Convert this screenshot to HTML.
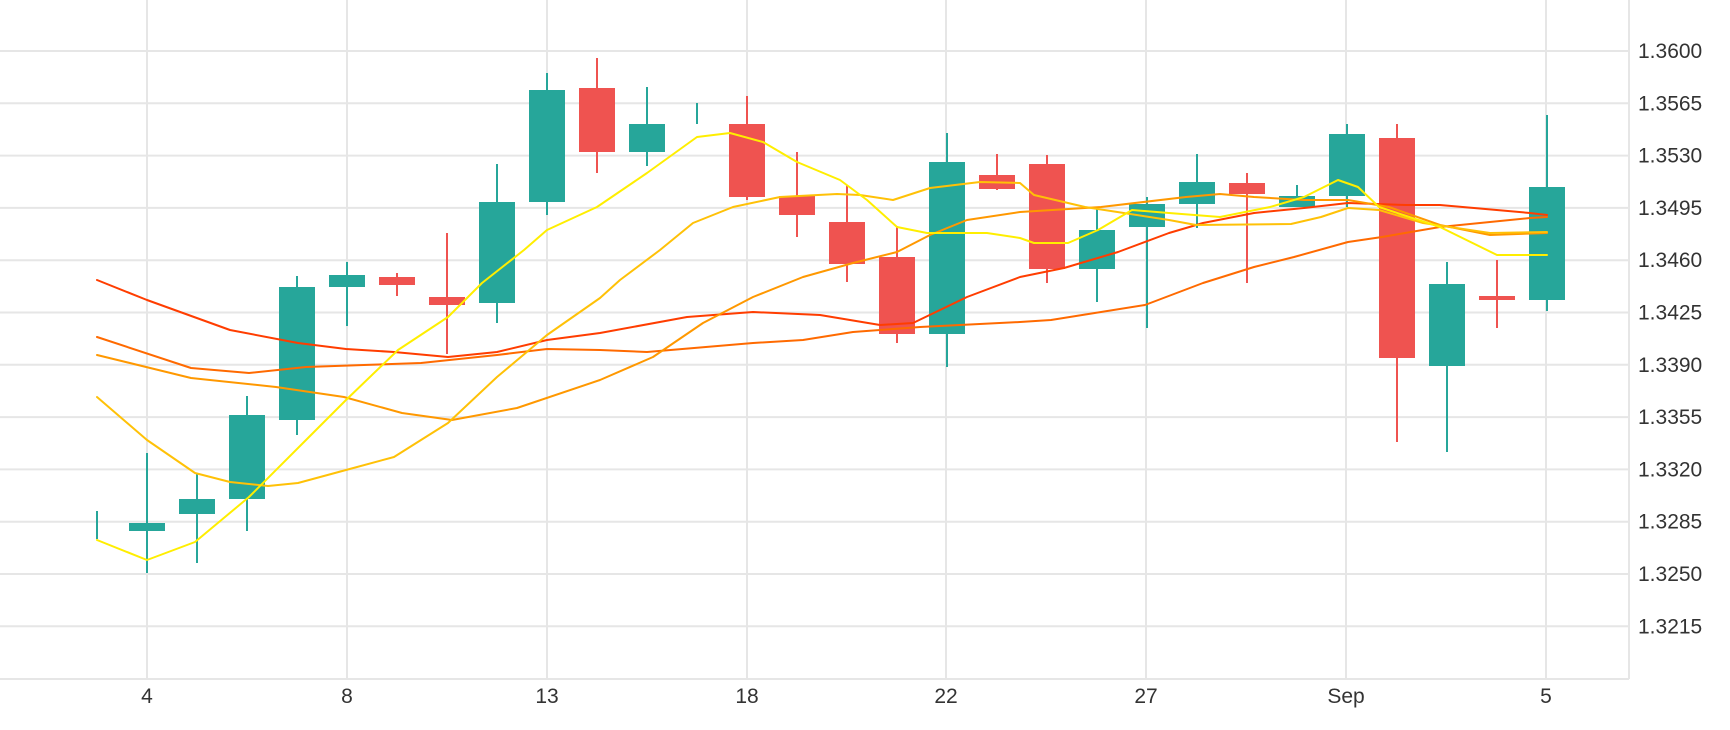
<!DOCTYPE html>
<html><head><meta charset="utf-8"><style>
html,body{margin:0;padding:0;background:#fff;}
svg{display:block;}
text{font-family:"Liberation Sans",sans-serif;fill:#333;}
</style></head><body>
<svg width="1730" height="730" viewBox="0 0 1730 730" xmlns="http://www.w3.org/2000/svg">
<g stroke="#e6e6e6" stroke-width="2" fill="none">
<line x1="0" y1="51" x2="1629" y2="51"/>
<line x1="0" y1="103.3" x2="1629" y2="103.3"/>
<line x1="0" y1="155.6" x2="1629" y2="155.6"/>
<line x1="0" y1="207.9" x2="1629" y2="207.9"/>
<line x1="0" y1="260.2" x2="1629" y2="260.2"/>
<line x1="0" y1="312.5" x2="1629" y2="312.5"/>
<line x1="0" y1="364.8" x2="1629" y2="364.8"/>
<line x1="0" y1="417.1" x2="1629" y2="417.1"/>
<line x1="0" y1="469.4" x2="1629" y2="469.4"/>
<line x1="0" y1="521.7" x2="1629" y2="521.7"/>
<line x1="0" y1="574" x2="1629" y2="574"/>
<line x1="0" y1="626.3" x2="1629" y2="626.3"/>
<line x1="0" y1="679" x2="1629" y2="679"/>
<line x1="1629" y1="0" x2="1629" y2="679"/>
<line x1="147" y1="0" x2="147" y2="679"/>
<line x1="347" y1="0" x2="347" y2="679"/>
<line x1="547" y1="0" x2="547" y2="679"/>
<line x1="747" y1="0" x2="747" y2="679"/>
<line x1="946" y1="0" x2="946" y2="679"/>
<line x1="1146" y1="0" x2="1146" y2="679"/>
<line x1="1346" y1="0" x2="1346" y2="679"/>
<line x1="1546" y1="0" x2="1546" y2="679"/>
</g>
<g font-size="21">
<text x="1638" y="58">1.3600</text>
<text x="1638" y="110.3">1.3565</text>
<text x="1638" y="162.6">1.3530</text>
<text x="1638" y="214.9">1.3495</text>
<text x="1638" y="267.2">1.3460</text>
<text x="1638" y="319.5">1.3425</text>
<text x="1638" y="371.8">1.3390</text>
<text x="1638" y="424.1">1.3355</text>
<text x="1638" y="476.4">1.3320</text>
<text x="1638" y="528.7">1.3285</text>
<text x="1638" y="581">1.3250</text>
<text x="1638" y="633.3">1.3215</text>
</g>
<g font-size="21" text-anchor="middle">
<text x="147" y="703">4</text>
<text x="347" y="703">8</text>
<text x="547" y="703">13</text>
<text x="747" y="703">18</text>
<text x="946" y="703">22</text>
<text x="1146" y="703">27</text>
<text x="1346" y="703">Sep</text>
<text x="1546" y="703">5</text>
</g>
<g stroke-width="2">
<g stroke="#26a69a" fill="#26a69a">
<line x1="97" y1="511" x2="97" y2="539"/>
<line x1="147" y1="453" x2="147" y2="573"/><rect x="129" y="523" width="36" height="8" stroke="none"/>
<line x1="197" y1="473" x2="197" y2="563"/><rect x="179" y="499" width="36" height="15" stroke="none"/>
<line x1="247" y1="396" x2="247" y2="531"/><rect x="229" y="415" width="36" height="84" stroke="none"/>
<line x1="297" y1="276" x2="297" y2="435"/><rect x="279" y="287" width="36" height="133" stroke="none"/>
<line x1="347" y1="262" x2="347" y2="326"/><rect x="329" y="275" width="36" height="12" stroke="none"/>
<line x1="497" y1="164" x2="497" y2="323"/><rect x="479" y="202" width="36" height="101" stroke="none"/>
<line x1="547" y1="73" x2="547" y2="215"/><rect x="529" y="90" width="36" height="112" stroke="none"/>
<line x1="647" y1="87" x2="647" y2="166"/><rect x="629" y="124" width="36" height="28" stroke="none"/>
<line x1="697" y1="103" x2="697" y2="124"/>
<line x1="947" y1="133" x2="947" y2="367"/><rect x="929" y="162" width="36" height="172" stroke="none"/>
<line x1="1097" y1="209" x2="1097" y2="302"/><rect x="1079" y="230" width="36" height="39" stroke="none"/>
<line x1="1147" y1="197" x2="1147" y2="328"/><rect x="1129" y="204" width="36" height="23" stroke="none"/>
<line x1="1197" y1="154" x2="1197" y2="228"/><rect x="1179" y="182" width="36" height="22" stroke="none"/>
<line x1="1297" y1="185" x2="1297" y2="207"/><rect x="1279" y="196" width="36" height="11" stroke="none"/>
<line x1="1347" y1="124" x2="1347" y2="207"/><rect x="1329" y="134" width="36" height="62" stroke="none"/>
<line x1="1447" y1="262" x2="1447" y2="452"/><rect x="1429" y="284" width="36" height="82" stroke="none"/>
<line x1="1547" y1="115" x2="1547" y2="311"/><rect x="1529" y="187" width="36" height="113" stroke="none"/>
</g>
<g stroke="#ef5350" fill="#ef5350">
<line x1="397" y1="273" x2="397" y2="296"/><rect x="379" y="277" width="36" height="8" stroke="none"/>
<line x1="447" y1="233" x2="447" y2="354"/><rect x="429" y="297" width="36" height="8" stroke="none"/>
<line x1="597" y1="58" x2="597" y2="173"/><rect x="579" y="88" width="36" height="64" stroke="none"/>
<line x1="747" y1="96" x2="747" y2="200"/><rect x="729" y="124" width="36" height="73" stroke="none"/>
<line x1="797" y1="152" x2="797" y2="237"/><rect x="779" y="196" width="36" height="19" stroke="none"/>
<line x1="847" y1="185" x2="847" y2="282"/><rect x="829" y="222" width="36" height="42" stroke="none"/>
<line x1="897" y1="226" x2="897" y2="343"/><rect x="879" y="257" width="36" height="77" stroke="none"/>
<line x1="997" y1="154" x2="997" y2="190"/><rect x="979" y="175" width="36" height="14" stroke="none"/>
<line x1="1047" y1="155" x2="1047" y2="283"/><rect x="1029" y="164" width="36" height="105" stroke="none"/>
<line x1="1247" y1="173" x2="1247" y2="283"/><rect x="1229" y="183" width="36" height="11" stroke="none"/>
<line x1="1397" y1="124" x2="1397" y2="442"/><rect x="1379" y="138" width="36" height="220" stroke="none"/>
<line x1="1497" y1="260" x2="1497" y2="328"/><rect x="1479" y="296" width="36" height="4" stroke="none"/>
</g>
</g>
<g id="ma" fill="none" stroke-width="2" stroke-linejoin="round" stroke-linecap="round">
<polyline stroke="#ff3d00" points="97,280 147,300 230,330 298,343 346,349 394,352 448,357 497,352 547,340 600,333 687,317 753,312 820,315 880,325 913,323 967,297 1020,277 1064,268 1118,252 1169,233 1203,223 1254,213 1304,208 1348,203 1406,205 1440,205 1530,213 1547,215"/>
<polyline stroke="#ff6a00" points="97,337 191,368 249,373 306,367 421,363 497,355 547,349 600,350 647,352 753,343 803,340 853,332 920,327 1020,322 1051,320 1145,305 1203,283 1254,267 1294,257 1348,242 1382,237 1440,227 1530,218 1547,217"/>
<polyline stroke="#ff9800" points="97,355 191,378 276,387 344,397 402,413 452,420 517,408 600,380 653,357 703,323 753,297 803,277 853,263 897,252 930,235 967,220 1020,212 1101,207 1186,197 1220,194 1254,197 1304,200 1348,200 1389,207 1440,225 1490,235 1547,233"/>
<polyline stroke="#ffc107" points="97,397 147,440 195,473 230,482 268,486 298,483 346,470 394,457 448,423 497,377 547,335 600,298 620,280 660,250 693,223 733,207 780,197 837,194 860,195 893,200 930,188 980,182 1020,183 1034,195 1085,207 1169,220 1196,225 1291,224 1321,217 1348,208 1379,210 1423,223 1490,233 1547,232"/>
<polyline stroke="#ffee00" points="97,540 147,560 195,542 249,497 306,440 346,400 398,350 448,317 482,283 524,250 547,230 597,207 647,173 697,137 730,133 763,142 797,162 840,180 867,200 897,227 927,233 987,233 1020,238 1034,243 1068,243 1098,230 1132,210 1169,213 1220,217 1270,207 1304,197 1338,180 1358,187 1379,207 1440,227 1497,255 1547,255"/>
</g>
<script>
(function(){
var NS="http://www.w3.org/2000/svg";
var g=document.getElementById("ma");
var pls=g.querySelectorAll("polyline");
for(var k=0;k<pls.length;k++){
var pl=pls[k];
var p=pl.getAttribute("points").trim().split(/\s+/).map(function(s){var a=s.split(",");return [+a[0],+a[1]];});
var d="M"+p[0][0]+","+p[0][1];
for(var i=0;i<p.length-1;i++){
var p0=p[i>0?i-1:0],p1=p[i],p2=p[i+1],p3=p[i+2<p.length?i+2:i+1];
var c1x=p1[0]+(p2[0]-p0[0])/6,c1y=p1[1]+(p2[1]-p0[1])/6;
var c2x=p2[0]-(p3[0]-p1[0])/6,c2y=p2[1]-(p3[1]-p1[1])/6;
d+=" C"+c1x.toFixed(1)+","+c1y.toFixed(1)+" "+c2x.toFixed(1)+","+c2y.toFixed(1)+" "+p2[0]+","+p2[1];
}
var path=document.createElementNS(NS,"path");
path.setAttribute("d",d);
path.setAttribute("stroke",pl.getAttribute("stroke"));
g.appendChild(path);
pl.parentNode.removeChild(pl);
}
})();
</script>
</svg>
</body></html>
